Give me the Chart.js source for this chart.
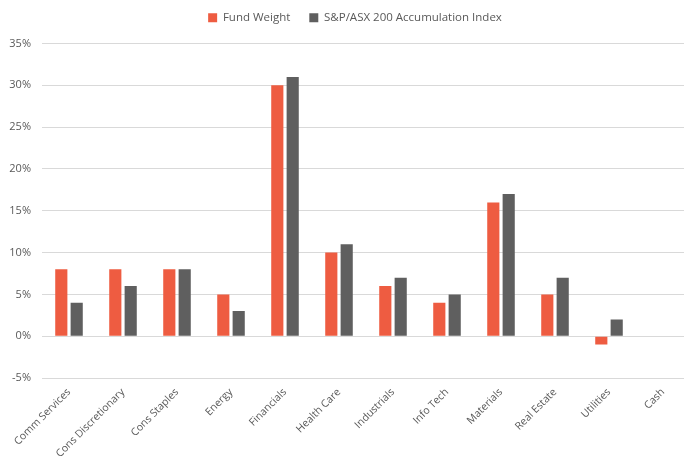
<!DOCTYPE html>
<html>
<head>
<meta charset="utf-8">
<script src="https://cdn.jsdelivr.net/npm/chart.js@4"></script>
<style>
  html, body { margin: 0; padding: 0; background: #fff; overflow: hidden; }
  #wrap { width: 690px; height: 459px; }
</style>
</head>
<body>
<div id="wrap"><canvas id="myChart"></canvas></div>
<script>
const categories = ["Comm Services", "Cons Discretionary", "Cons Staples", "Energy", "Financials", "Health Care",
  "Industrials", "Info Tech", "Materials", "Real Estate", "Utilities", "Cash"];
const fundWeight = [8, 8, 8, 5, 30, 10, 6, 4, 16, 5, -1, 0];
const indexWeight = [4, 6, 8, 3, 31, 11, 7, 5, 17, 7, 2, 0];
const seriesNames = ["Fund Weight", "S&P/ASX 200 Accumulation Index"];

Chart.defaults.font.family = "'Open Sans', 'Liberation Sans', sans-serif";
Chart.defaults.color = "#595959";

// push plot area down below the legend, and nudge legend right so it sits over the plot
const legendGap = {
  id: "legendGap",
  beforeInit(chart) {
    const fit = chart.legend.fit;
    chart.legend.fit = function () {
      fit.bind(chart.legend)();
      this.height += 10;
    };
  },
  afterLayout(chart) {
    chart.legend.left += 10;
    chart.legend.right += 10;
  }
};

new Chart("myChart", {
  type: "bar",
  data: {
    labels: categories,
    datasets: [
      { label: seriesNames[0], data: fundWeight, backgroundColor: "#EE5C41" },
      { label: seriesNames[1], data: indexWeight, backgroundColor: "#5F5F5F" }
    ]
  },
  options: {
    responsive: true,
    maintainAspectRatio: false,
    animation: false,
    layout: { padding: { left: 0, right: 0, top: 2, bottom: 0 } },
    datasets: { bar: { categoryPercentage: 0.57, barPercentage: 0.79 } },
    plugins: {
      legend: {
        position: "top",
        labels: {
          boxWidth: 9, boxHeight: 9, font: { size: 11.5 }, padding: 10,
          generateLabels: chart => Chart.defaults.plugins.legend.labels.generateLabels(chart)
            .map((l, i) => { if (i === 0) l.text = l.text + "   "; return l; })
        }
      },
      tooltip: { enabled: false }
    },
    scales: {
      x: {
        grid: { display: false },
        border: { display: false },
        ticks: { maxRotation: 45, minRotation: 45, font: { size: 10.5 }, padding: 0 },
        afterFit: axis => { axis.height = 81; }
      },
      y: {
        min: -5,
        max: 35,
        ticks: { stepSize: 5, font: { size: 11 }, padding: 11, callback: v => v + "%" },
        grid: { color: "#D9D9D9", lineWidth: 1, drawTicks: false },
        border: { display: false },
        afterFit: axis => { axis.width = 42; }
      }
    }
  },
  plugins: [legendGap]
});
</script>
</body>
</html>
